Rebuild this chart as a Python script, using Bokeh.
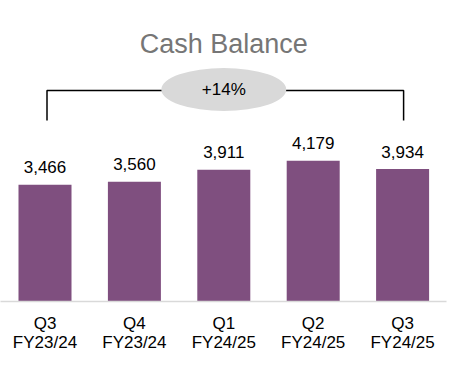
from bokeh.plotting import figure
from bokeh.models import Range1d, FixedTicker, ColumnDataSource
from bokeh.core.properties import value
from bokeh.embed import file_html
from bokeh.resources import INLINE

# ---- data ----
quarters = ["Q3", "Q4", "Q1", "Q2", "Q3"]
years = ["FY23/24", "FY23/24", "FY24/25", "FY24/25", "FY24/25"]
cash = [3466, 3560, 3911, 4179, 3934]
title_text = "Cash Balance"

FONT = value("Liberation Sans")
BAR_COLOR = "#7f4f7f"

# ---- layout constants ----
W, H = 458, 371
BORDER_BOTTOM = 70
BORDER_RIGHT = 12
frame_w = W - BORDER_RIGHT
frame_h = H - BORDER_BOTTOM
px_per_cat = 89.4
x_start = -44.5 / px_per_cat
x_end = x_start + frame_w / px_per_cat
y_end = frame_h / 0.03367
upp = y_end / frame_h  # data units per pixel


def y_from_top(px):
    return (frame_h - px) * upp


xs = list(range(len(cash)))
labels = [f"{v:,}" for v in cash]
src = ColumnDataSource(dict(x=xs, top=cash, label=labels))

p = figure(width=W, height=H, output_backend="svg", toolbar_location=None,
           x_range=Range1d(x_start, x_end), y_range=Range1d(0, y_end),
           min_border_left=0, min_border_right=BORDER_RIGHT, min_border_top=0,
           min_border_bottom=BORDER_BOTTOM, outline_line_color=None,
           background_fill_color="white", border_fill_color="white")
p.grid.visible = False
p.yaxis.visible = False

p.vbar(x="x", top="top", width=53 / px_per_cat, bottom=0, source=src,
       fill_color=BAR_COLOR, line_color=None)
p.text(x="x", y="top", text="label", source=src, text_font=FONT,
       text_font_size="17px", text_color="black", text_align="center",
       text_baseline="middle", y_offset=-17.5)

ax = p.xaxis[0]
ax.ticker = FixedTicker(ticks=xs)
ax.major_label_overrides = {i: f"{q}\n{y}" for i, (q, y) in enumerate(zip(quarters, years))}
ax.major_label_text_font = "Liberation Sans"
ax.major_label_text_font_size = "17px"
ax.major_label_text_color = "black"
ax.major_label_text_line_height = 1.05
ax.major_label_standoff = 6
ax.major_tick_line_color = None
ax.minor_tick_line_color = None
ax.axis_line_color = "#d9d9d9"
ax.axis_line_width = 1.5

# title
mid = (xs[0] + xs[-1]) / 2
p.text(x=[mid], y=[y_from_top(43)], text=[title_text], text_font=FONT,
       text_font_size="27px", text_color="#767676", text_align="center",
       text_baseline="middle")

# bracket from first to last bar
top_y = y_from_top(90)
bot_y = y_from_top(120)
p.line(x=[xs[0] + 2 / px_per_cat, xs[0] + 2 / px_per_cat, xs[-1] + 1 / px_per_cat, xs[-1] + 1 / px_per_cat],
       y=[bot_y, top_y, top_y, bot_y], line_color="black", line_width=1.5)

growth = round((cash[-1] / cash[0] - 1) * 100)
p.ellipse(x=[mid], y=[y_from_top(89)], width=125, height=43, width_units="screen",
          height_units="screen", fill_color="#d9d9d9", line_color=None)
p.text(x=[mid], y=[y_from_top(89)], text=[f"+{growth}%"], text_font=FONT,
       text_font_size="17px", text_color="black", text_align="center",
       text_baseline="middle")

open("out.html", "w").write(file_html(p, INLINE))
